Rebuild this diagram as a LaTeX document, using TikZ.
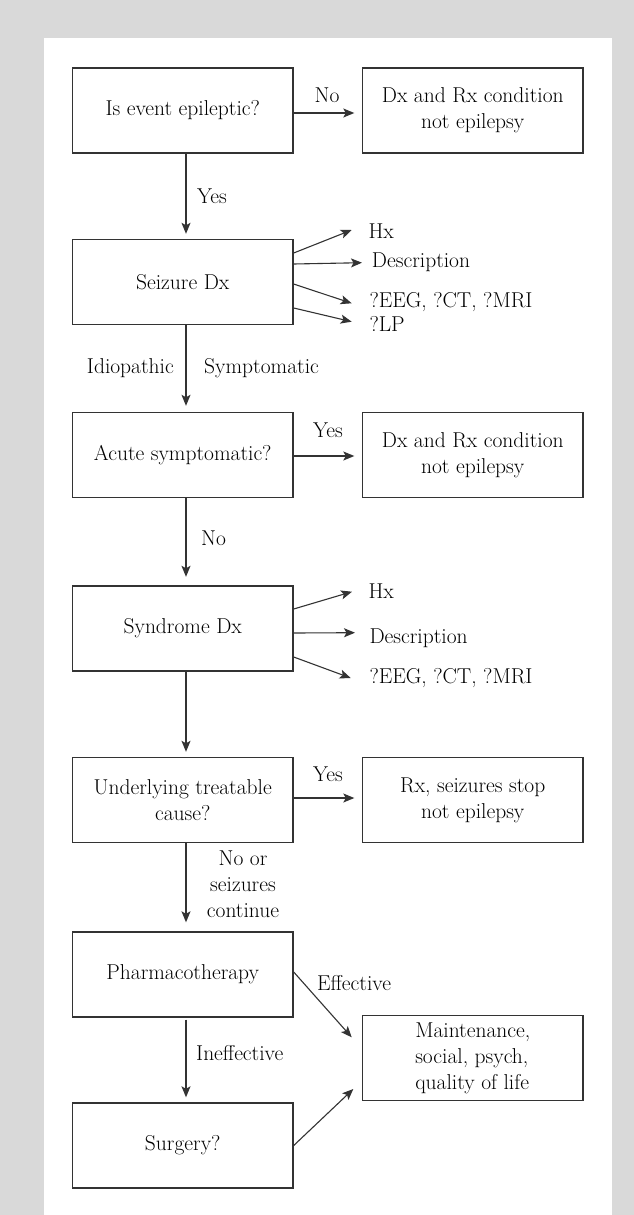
\documentclass[tikz,border=0pt]{standalone}
\usepackage{fontspec}
\usetikzlibrary{arrows.meta}
\newcommand{\flowfont}{\fontsize{21.5}{26}\selectfont}
\definecolor{inkline}{gray}{0.2}
\definecolor{pagegray}{gray}{0.85}
\begin{document}
\begin{tikzpicture}[x=1pt,y=-1pt,
  box/.style={draw=inkline, line width=1.4pt, minimum width=220.5pt,
    minimum height=85pt, inner sep=0pt, align=center, font=\flowfont},
  link/.style={draw=inkline, line width=1.1pt,
    -{Stealth[length=11pt,width=9pt,inset=2.5pt]}},
  lbl/.style={inner sep=0pt, font=\flowfont}]
\useasboundingbox (0,0) rectangle (634,1215);
% page frame
\fill[pagegray] (0,0) rectangle (634,1215);
\fill[white] (44,38) rectangle (612,1215);

% main column and outcome boxes
\node[box] (b1) at (182.75,110.5) {Is event epileptic?};
\node[box] (r1) at (472.75,110.5) {Dx and Rx condition\\not epilepsy};
\node[box] (b2) at (182.75,282) {Seizure Dx};
\node[box] (b3) at (182.75,455) {Acute symptomatic?};
\node[box] (r3) at (472.75,455) {Dx and Rx condition\\not epilepsy};
\node[box] (b4) at (182.75,628.5) {Syndrome Dx};
\node[box] (b5) at (182.75,800) {Underlying treatable\\cause?};
\node[box] (r5) at (472.75,800) {Rx, seizures stop\\not epilepsy};
\node[box] (b6) at (182.75,974.5) {Pharmacotherapy};
\node[box] (b7) at (182.75,1145.5) {Surgery?};
\node[box, align=left] (r7) at (472.75,1058) {Maintenance,\\social, psych,\\quality of life};

% vertical flow
\draw[link, shorten >=5pt] ([xshift=3.25pt]b1.south) -- ([xshift=3.25pt]b2.north);
\draw[link, shorten >=6pt] ([xshift=3.25pt]b2.south) -- ([xshift=3.25pt]b3.north);
\draw[link, shorten >=8.5pt] ([xshift=3.25pt]b3.south) -- ([xshift=3.25pt]b4.north);
\draw[link, shorten >=5pt] ([xshift=3.25pt]b4.south) -- ([xshift=3.25pt]b5.north);
\draw[link, shorten >=9pt] ([xshift=3.25pt]b5.south) -- ([xshift=3.25pt]b6.north);
\draw[link, shorten <=2pt, shorten >=5pt] ([xshift=3.25pt]b6.south) -- ([xshift=3.25pt]b7.north);

% horizontal exits
\draw[link, shorten >=7.5pt] ([yshift=-2.5pt]b1.east) -- ([yshift=-2.5pt]r1.west);
\draw[link, shorten >=7.5pt] ([yshift=-1pt]b3.east) -- ([yshift=-1pt]r3.west);
\draw[link, shorten >=7.5pt] ([yshift=2pt]b5.east) -- ([yshift=2pt]r5.west);

% flow labels
\node[lbl, anchor=base] (lno1) at (327,102) {No};
\node[lbl, anchor=base west] (lyes1) at (197,203) {Yes};
\node[lbl, anchor=base east] (lidio) at (174,373) {Idiopathic};
\node[lbl, anchor=base west] (lsymp) at (204,373) {Symptomatic};
\node[lbl, anchor=base] (lyes2) at (328,437) {Yes};
\node[lbl, anchor=base west] (lno2) at (201,545) {No};
\node[lbl, anchor=base] (lyes3) at (328,781) {Yes};
\node[lbl, align=center] (lcont) at (243,884.5) {No or\\seizures\\continue};
\node[lbl, anchor=base west] (leff) at (317,990) {Effective};
\node[lbl, anchor=base west] (lineff) at (196,1060) {Ineffective};

% seizure work-up
\coordinate (s1) at (351.7,230);
\coordinate (s2) at (362,262.7);
\coordinate (s3) at (351.7,303.3);
\coordinate (s4) at (351.7,321.7);
\draw[link] ([yshift=29pt]b2.east) -- (s1);
\draw[link] ([yshift=18pt]b2.east) -- (s2);
\draw[link] ([yshift=-2pt]b2.east) -- (s3);
\draw[link] ([yshift=-26pt]b2.east) -- (s4);
\node[lbl, anchor=base west] (shx) at (368.3,238) {Hx};
\node[lbl, anchor=base west] (sdesc) at (371.7,267) {Description};
\node[lbl, anchor=base west] (seeg) at (369.3,307) {?EEG, ?CT, ?MRI};
\node[lbl, anchor=base west] (slp) at (369.3,331) {?LP};

% syndrome work-up
\coordinate (y1) at (352,591.7);
\coordinate (y2) at (355,632.7);
\coordinate (y3) at (350.7,678);
\draw[link] ([yshift=19.5pt]b4.east) -- (y1);
\draw[link] ([yshift=-4.5pt]b4.east) -- (y2);
\draw[link] ([yshift=-28.5pt]b4.east) -- (y3);
\node[lbl, anchor=base west] (yhx) at (368.3,598) {Hx};
\node[lbl, anchor=base west] (ydesc) at (369.3,643) {Description};
\node[lbl, anchor=base west] (yeeg) at (369.3,683) {?EEG, ?CT, ?MRI};

% treatment outcomes
\coordinate (e1) at (351.7,1037.3);
\coordinate (e2) at (353.3,1089);
\draw[link] ([yshift=2.5pt]b6.east) -- (e1);
\draw[link] (b7.east) -- (e2);
\end{tikzpicture}
\end{document}
